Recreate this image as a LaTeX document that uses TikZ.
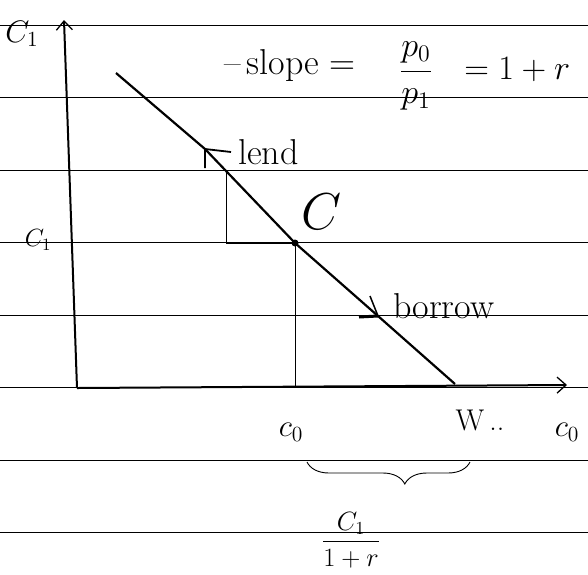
\documentclass[tikz,border=0pt]{standalone}
\usepackage{amsmath}
\usetikzlibrary{arrows.meta,decorations.pathreplacing}
\begin{document}
\begin{tikzpicture}[x=1pt,y=-1pt,
  rule/.style={black,line width=0.7pt},
  axis/.style={line width=2pt,-{Straight Barb[length=9pt,width=16pt,line width=1.3pt]}},
  curve/.style={line width=2.2pt,line join=round},
  thinline/.style={line width=1pt},
  lbl/.style={font=\fontsize{36}{40}\selectfont,inner sep=0pt},
  mlbl/.style={font=\fontsize{20}{24}\selectfont,scale=1.5,transform shape,inner sep=0pt},
  bigl/.style={font=\fontsize{20}{24}\selectfont,scale=2.5,transform shape,inner sep=0pt}
]
\useasboundingbox (0,0) rectangle (588,574);
\fill[white] (0,0) rectangle (588,574);
% ruled paper
\foreach \y in {25,97.5,170,242.5,315,387.5,460,532.5}
  \draw[rule] (0,\y) -- (588,\y);
% coordinates
\coordinate (O) at (77,388);
\coordinate (Ytop) at (64,20);
\coordinate (Xend) at (567,385);
\coordinate (A) at (116,73);
\coordinate (L) at (205,149);
\coordinate (C) at (295,243);
\coordinate (B) at (378,316);
\coordinate (W) at (455,384);
\coordinate (T) at (226,172);
\coordinate (TB) at (226,243);
\coordinate (L1) at (231,152);
\coordinate (L2) at (205,168);
\coordinate (B1) at (370,296);
\coordinate (B2) at (359,317);
\coordinate (BrL) at (307,462);
\coordinate (BrR) at (470,462);
% axes
\draw[axis] (O) -- (Ytop);
\draw[axis] (O) -- (Xend);
% budget line
\draw[curve] (A) -- (L) -- (C) -- (B) -- (W);
\fill (C) circle (3.5pt);
% lend arrow and triangle
\draw[line width=1.8pt,line join=miter] (L1) -- (L) -- (L2);
\draw[thinline] (T) -- (TB);
\draw[line width=2pt] (TB) -- (C);
% borrow arrow
\draw[line width=1.5pt] (B1) -- (B);
\draw[line width=3pt] (B2) -- (B);
% drop from C
\draw[thinline] (C) -- (C |- O);
% brace
\draw[line width=0.9pt,decorate,decoration={brace,mirror,amplitude=22pt,aspect=0.6}] (BrL) -- (BrR);
% labels
\node[mlbl] (yl) at (22,34) {$C_1$};
\node[mlbl,scale=0.8] (c1l) at (38,240) {$C_1$};
\node[bigl] (cl) at (322,212) {$C$};
\node[lbl,anchor=west] (sl) at (224,66) {--\,slope =};
\node[mlbl,scale=1.1] (fr) at (416,76) {$\dfrac{p_0}{p_1}$};
\node[mlbl,scale=1.1,anchor=west] (eq) at (464,70) {$=1+r$};
\node[lbl,anchor=west] (lend) at (238,152) {lend};
\node[lbl,anchor=west] (borrow) at (393,306) {borrow};
\node[mlbl] (c0a) at (291,432) {$c_0$};
\node[mlbl] (wl) at (480,420) {W\,..};
\node[mlbl] (c0b) at (567,432) {$c_0$};
\node[mlbl,scale=0.85] (frac2) at (351,540) {$\dfrac{C_1}{1+r}$};
\end{tikzpicture}
\end{document}
